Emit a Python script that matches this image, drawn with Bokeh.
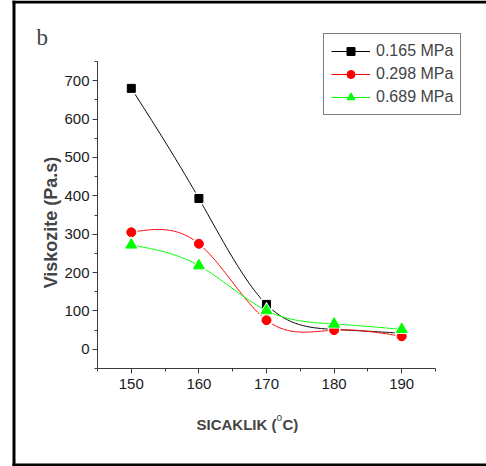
import numpy as np
from bokeh.plotting import figure
from bokeh.models import (FixedTicker, Legend, LegendItem, Label, BoxAnnotation,
                          Range1d)
from bokeh.embed import file_html
from bokeh.resources import INLINE

# Temperature (°C) and viscosity (Pa.s) at three pressures
temperature = [150, 160, 170, 180, 190]
visc_0165 = [680, 393, 117, 52, 42]
visc_0298 = [305, 275, 76, 50, 34]
visc_0689 = [272, 218, 101, 66, 52]

series_names = ["0.165 MPa", "0.298 MPa", "0.689 MPa"]
series_colors = ["#000000", "#ff0000", "#00ff00"]
series_markers = ["square", "circle", "triangle"]
series_sizes = [8, 9, 11]

x_ticks = [150, 160, 170, 180, 190]
y_ticks = [0, 100, 200, 300, 400, 500, 600, 700]
x_lim = (145, 195)
y_lim = (-50, 750)

SANS = "Liberation Sans"
W, H = 486, 466
# pixel box occupied by the axes inside the canvas (left, right, top, bottom)
AX_L, AX_R, AX_T, AX_B = 97, 435, 61, 368


def natural_spline(xs, ys, n=200):
    """Smooth curve through the points (natural cubic spline)."""
    xs = np.asarray(xs, float)
    ys = np.asarray(ys, float)
    k = len(xs)
    h = np.diff(xs)
    A = np.zeros((k, k))
    r = np.zeros(k)
    A[0, 0] = A[-1, -1] = 1.0
    for i in range(1, k - 1):
        A[i, i - 1] = h[i - 1]
        A[i, i] = 2 * (h[i - 1] + h[i])
        A[i, i + 1] = h[i]
        r[i] = 6 * ((ys[i + 1] - ys[i]) / h[i] - (ys[i] - ys[i - 1]) / h[i - 1])
    m = np.linalg.solve(A, r)
    xx = np.linspace(xs[0], xs[-1], n)
    idx = np.clip(np.searchsorted(xs, xx) - 1, 0, k - 2)
    x0, x1 = xs[idx], xs[idx + 1]
    hh = x1 - x0
    t0, t1 = x1 - xx, xx - x0
    yy = (m[idx] * t0 ** 3 / (6 * hh) + m[idx + 1] * t1 ** 3 / (6 * hh)
          + (ys[idx] / hh - m[idx] * hh / 6) * t0
          + (ys[idx + 1] / hh - m[idx + 1] * hh / 6) * t1)
    return xx, yy


# The plotting frame fills the whole canvas; the axes sit at fixed data
# positions so the legend and titles can live anywhere on the page.
sx = (x_lim[1] - x_lim[0]) / (AX_R - AX_L)
sy = (y_lim[1] - y_lim[0]) / (AX_B - AX_T)
x_range = Range1d(x_lim[0] - AX_L * sx, x_lim[1] + (W - AX_R) * sx)
y_range = Range1d(y_lim[0] - (H - AX_B) * sy, y_lim[1] + AX_T * sy)

p = figure(width=W, height=H, output_backend="svg", toolbar_location=None,
           x_range=x_range, y_range=y_range,
           min_border=0, min_border_left=0, min_border_right=0,
           min_border_top=0, min_border_bottom=0)
p.outline_line_color = None
p.grid.visible = False
p.background_fill_color = "white"
p.border_fill_color = "white"

for ax, ticks, bounds, loc in ((p.xaxis, x_ticks, x_lim, y_lim[0]),
                               (p.yaxis, y_ticks, y_lim, x_lim[0])):
    step = ticks[1] - ticks[0]
    minor = [t - step / 2 for t in ticks] + [ticks[-1] + step / 2]
    ax.ticker = FixedTicker(ticks=ticks, minor_ticks=minor)
    ax.bounds = bounds
    ax.fixed_location = loc
    ax.axis_line_color = "#3a3a3a"
    ax.major_tick_line_color = "#3a3a3a"
    ax.minor_tick_line_color = "#3a3a3a"
    ax.major_tick_in = 0
    ax.major_tick_out = 5
    ax.minor_tick_in = 0
    ax.minor_tick_out = 3
    ax.major_label_text_font = SANS
    ax.major_label_text_font_size = "15px"
    ax.major_label_text_color = "#1a1a1a"
p.yaxis.major_label_standoff = 3
p.xaxis.major_label_standoff = 5

items = []
for ys, name, col, mk, sz in zip([visc_0165, visc_0298, visc_0689], series_names,
                                 series_colors, series_markers, series_sizes):
    xx, yy = natural_spline(temperature, ys)
    ln = p.line(xx, yy, line_color=col, line_width=1)
    p.scatter(temperature, ys, marker=mk, size=sz + 3, fill_color="white",
              line_color="white")
    sc = p.scatter(temperature, ys, marker=mk, size=sz, fill_color=col,
                   line_color=col)
    items.append(LegendItem(label=name, renderers=[ln, sc]))

legend = Legend(items=items, location=(323, H - 115), orientation="vertical",
                border_line_color="black", border_line_width=1,
                padding=7, spacing=3, margin=0,
                glyph_width=39, glyph_height=20, label_height=20,
                label_standoff=6, label_text_font=SANS,
                label_text_font_size="16px", background_fill_alpha=1)
p.add_layout(legend)

# Panel letter and axis titles (screen units from the bottom-left corner)
p.add_layout(Label(x=36, y=H - 37, x_units="screen", y_units="screen", text="b",
                   text_font="Liberation Serif", text_font_size="23px",
                   text_baseline="alphabetic", text_align="left"))
p.add_layout(Label(x=50, y=H - 222, x_units="screen", y_units="screen",
                   text="Viskozite (Pa.s)", angle=np.pi / 2,
                   text_font=SANS, text_font_style="bold", text_font_size="18px",
                   text_align="center", text_baseline="middle"))
p.add_layout(Label(x=196, y=H - 424, x_units="screen", y_units="screen",
                   text="SICAKLIK (", text_font=SANS, text_font_style="bold",
                   text_font_size="15px", text_baseline="alphabetic"))
p.add_layout(Label(x=276, y=H - 417, x_units="screen", y_units="screen",
                   text="o", text_font=SANS, text_font_size="10px",
                   text_baseline="alphabetic"))
p.add_layout(Label(x=282, y=H - 424, x_units="screen", y_units="screen",
                   text="C)", text_font=SANS, text_font_style="bold",
                   text_font_size="15px", text_baseline="alphabetic"))

# Plain white strip along the right edge of the page
p.add_layout(BoxAnnotation(left=W - 4, right=W, top=H, bottom=0,
                           left_units="screen", right_units="screen",
                           top_units="screen", bottom_units="screen",
                           fill_color="white", fill_alpha=1,
                           line_color=None, line_alpha=0))

# Outer frame: thick black bars on the left, top and bottom edges
for left, right, top, bottom in ((12, 15, H, 0), (12, W, H, H - 3),
                                 (12, W, 3, 0)):
    p.add_layout(BoxAnnotation(left=left, right=right, top=top, bottom=bottom,
                               left_units="screen", right_units="screen",
                               top_units="screen", bottom_units="screen",
                               fill_color="black", fill_alpha=1,
                               line_color=None, line_alpha=0))

open("out.html", "w").write(file_html(p, INLINE))
